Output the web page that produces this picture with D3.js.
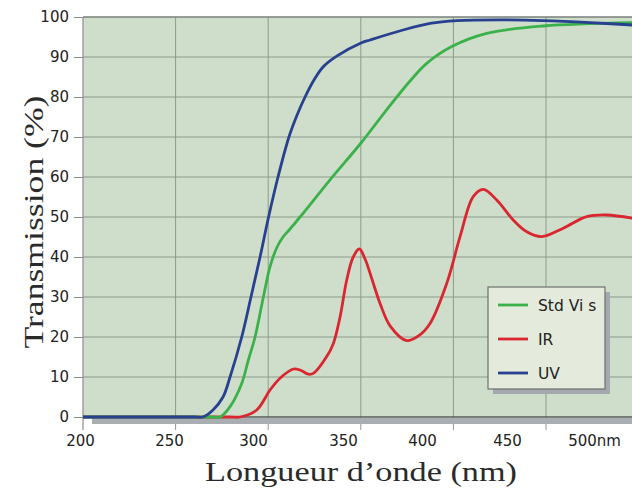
<!DOCTYPE html>
<html><head><meta charset="utf-8">
<script src="https://cdn.jsdelivr.net/npm/d3@7"></script>
<style>html,body{margin:0;padding:0;background:#fff;}svg{display:block;}</style>
</head><body>
<script>
// ---- data ----
const xTickValues = [200, 250, 300, 350, 400, 450, 500];
const xTickLabels = ["200", "250", "300", "350", "400", "450", "500nm"];
const yTickValues = [0, 10, 20, 30, 40, 50, 60, 70, 80, 90, 100];
const seriesNames = ["Std Vi s", "IR", "UV"];

const visNm = [200, 260, 270, 274.0, 279.4, 285.7, 289.3, 292.9, 297.4, 301.0, 304.8, 308.0, 311.8, 317.2, 333.4, 350.1, 363.1, 376.6, 385.6, 399.1, 418.0, 448.5, 496.4];
const visT  = [0,   0,   0,   0,     2.6,   8.4,   14.25, 20,    30,    37.6,  42.5,  45,    47,    50,    59.3,  68.5,  76.3,  84,    88.4,  92.6,  95.9,  97.75, 98.6];

const irNm = [200, 270, 280, 284.8, 293.8, 301.0, 306.4, 313.6, 317.2, 321.7, 324.4, 331.6, 335.2, 338.8, 342.4, 345.9, 349.2, 352.3, 356.0, 360.4, 365.8, 374.8, 380.9, 387.4, 396.4, 403.6, 410.7, 416.1, 423.4, 432.3, 439.6, 447.7, 459.3, 472.0, 482.8, 496.4];
const irT  = [0,   0,   0,   0,     1.75,  6.75,  9.7,   12,    11.75, 10.7,  10.9,  15.1,  18.4,  25,    34.25, 40,    42,    39.5,  34.5,  28.4,  22.8,  19.1,  20.2,  23.4,  33.4,  45.1,  55.1,  56.9,  54.25, 49.25, 46.3,  45.1,  47.2,  50.1,  50.5,  49.7];

const uvNm = [200, 250, 260, 264.8, 270.2, 275.6, 279.4, 285.7, 290.7, 295.6, 300.2, 305.3, 311.2, 315.6, 319.9, 324.8, 329.6, 337.0, 350.1, 355.0, 372.8, 387.4, 401.9, 425.2, 448.4, 473.8, 496.4];
const uvT  = [0,   0,   0,   0,     1.75,  5,     10,    20,    30,    40,    50,    60,    70,    75.5,  80,    84.3,  87.5,  90.2,  93.5,  94.25, 96.75, 98.4,  99.1,  99.3,  99.1,  98.6,  98];

const colors = {vis: "#3bb14a", ir: "#d9262f", uv: "#27408f"};

// ---- layout ----
const W = 632, H = 496;
const pLeft = 83, pTop = 17, pBottom = 417;
const svg = d3.select("body").append("svg").attr("width", W).attr("height", H);

const x = d3.scaleLinear().domain([200, 500]).range([pLeft, pLeft + 300 * 1.852]);
const y = d3.scaleLinear().domain([0, 100]).range([pBottom, pTop]);
// tick labels in the reference are not aligned with the grid lines
const xLab = d3.scaleLinear().domain(xTickValues).range([80, 169, 253, 343, 422, 507, 594]);

// plot background
svg.append("rect").attr("x", pLeft).attr("y", pTop).attr("width", W - pLeft).attr("height", pBottom - pTop).attr("fill", "#cfdecb");

// horizontal grid
svg.append("g").selectAll("line").data(yTickValues.filter(d => d > 0 && d < 100)).join("line")
  .attr("x1", pLeft).attr("x2", W).attr("y1", d => y(d)).attr("y2", d => y(d))
  .attr("stroke", "#8d9a8b").attr("stroke-width", 1);
// vertical grid (extends below axis as ticks)
svg.append("g").selectAll("line").data(xTickValues.filter(d => d > 200)).join("line")
  .attr("x1", d => x(d)).attr("x2", d => x(d)).attr("y1", pTop).attr("y2", 430)
  .attr("stroke", "#8d9a8b").attr("stroke-width", 1);

// top border
svg.append("line").attr("x1", pLeft).attr("x2", W).attr("y1", pTop).attr("y2", pTop).attr("stroke", "#7a7f7a").attr("stroke-width", 1.5);

// bottom shadow
svg.append("rect").attr("x", 92).attr("y", pBottom + 1).attr("width", W - 92).attr("height", 6).attr("fill", "#a9aeb3");

// left axis
const yAxis = d3.axisLeft(y).tickValues(yTickValues).tickSize(9).tickPadding(5);
const gy = svg.append("g").attr("transform", `translate(${pLeft},0)`).call(yAxis);
gy.select(".domain").attr("d", `M0,${pTop}V430`).attr("stroke", "#8a8f8a").attr("stroke-width", 1.2);
gy.selectAll(".tick line").attr("stroke", "#8a8f8a");
gy.selectAll(".tick text").attr("font-family", "DejaVu Sans").attr("font-size", 15).attr("fill", "#222");

// bottom axis line
svg.append("line").attr("x1", pLeft).attr("x2", W).attr("y1", pBottom).attr("y2", pBottom).attr("stroke", "#555a55").attr("stroke-width", 1.5);

// x labels
const xAxis = d3.axisBottom(xLab).tickValues(xTickValues).tickFormat((d, i) => xTickLabels[i]).tickSize(0).tickPadding(18);
const gx = svg.append("g").attr("transform", `translate(0,${pBottom})`).call(xAxis);
gx.select(".domain").remove();
gx.selectAll(".tick text").attr("font-family", "DejaVu Sans").attr("font-size", 15).attr("fill", "#222");

// curves
const line = d3.line().x(d => x(d[0])).y(d => y(d[1])).curve(d3.curveCatmullRom.alpha(0.5));
const series = [
  {key: "ir", nm: irNm, t: irT},
  {key: "vis", nm: visNm, t: visT},
  {key: "uv", nm: uvNm, t: uvT}
];
svg.append("defs").append("clipPath").attr("id", "clip").append("rect")
  .attr("x", pLeft).attr("y", 0).attr("width", W - pLeft).attr("height", pBottom + 3);
svg.append("g").attr("clip-path", "url(#clip)").selectAll("path").data(series).join("path")
  .attr("d", s => line(s.nm.map((n, i) => [n, s.t[i]])))
  .attr("fill", "none").attr("stroke", s => colors[s.key]).attr("stroke-width", 2.8)
  .attr("stroke-linejoin", "round").attr("stroke-linecap", "round");

// legend
const lg = svg.append("g");
lg.append("rect").attr("x", 493).attr("y", 292).attr("width", 117).attr("height", 102).attr("fill", "#a3a9ae");
lg.append("rect").attr("x", 488).attr("y", 287).attr("width", 117).attr("height", 102).attr("fill", "#e4ebdc").attr("stroke", "#6e716e").attr("stroke-width", 1.2);
const legKeys = ["vis", "ir", "uv"];
legKeys.forEach((k, i) => {
  const ly = 305 + i * 34;
  lg.append("line").attr("x1", 498).attr("x2", 528).attr("y1", ly).attr("y2", ly).attr("stroke", colors[k]).attr("stroke-width", 2.8);
  lg.append("text").attr("x", 538).attr("y", ly).attr("dy", "0.36em").text(seriesNames[i])
    .attr("font-family", "DejaVu Sans").attr("font-size", 15.5).attr("fill", "#222");
});

// titles
svg.append("text").attr("x", 361).attr("y", 481).attr("text-anchor", "middle")
  .attr("font-family", "Liberation Serif").attr("font-size", 27).attr("fill", "#2a2a2a")
  .attr("textLength", 312).attr("lengthAdjust", "spacingAndGlyphs")
  .text("Longueur d’onde (nm)");
svg.append("text").attr("transform", "translate(43,222) rotate(-90)").attr("text-anchor", "middle")
  .attr("font-family", "Liberation Serif").attr("font-size", 27).attr("fill", "#2a2a2a")
  .attr("textLength", 253).attr("lengthAdjust", "spacingAndGlyphs")
  .text("Transmission (%)");
</script>
</body></html>
